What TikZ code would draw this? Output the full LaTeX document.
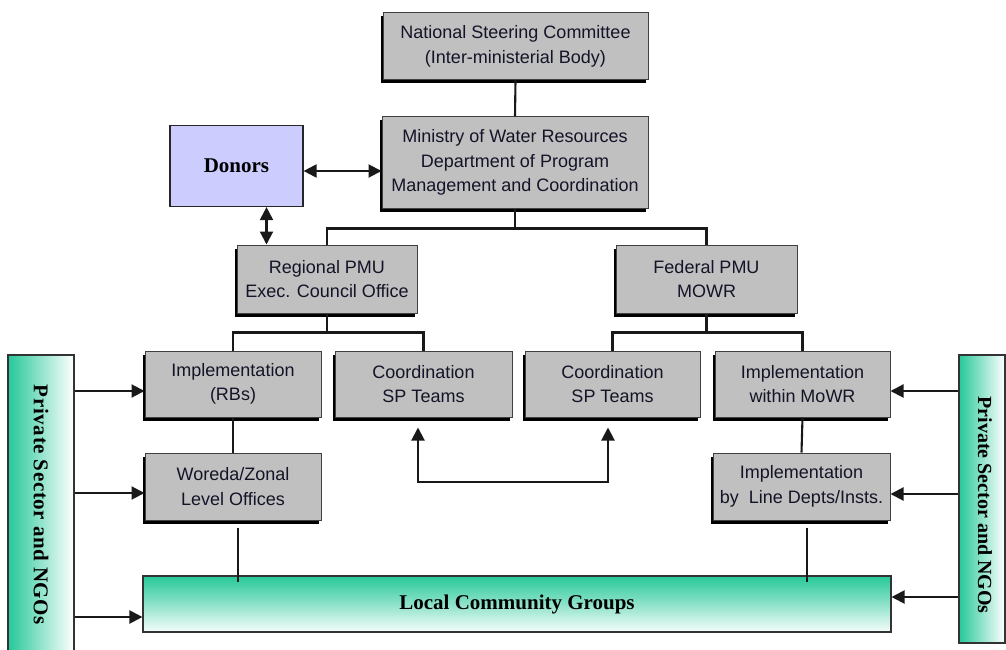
\documentclass[tikz,border=0pt]{standalone}
\usepackage{fontspec}
\setmainfont{Liberation Sans}
\newfontfamily\tnr{Liberation Serif}
\usetikzlibrary{arrows.meta,shadows,calc}
\definecolor{boxgray}{HTML}{C0C0C0}
\definecolor{donorblue}{HTML}{CCCCFF}
\definecolor{psgreen}{HTML}{26C899}
\definecolor{txt}{HTML}{141428}
\tikzset{
  gbox/.style={draw=black!75, line width=1pt, fill=boxgray,
    drop shadow={shadow xshift=-2.5pt, shadow yshift=-3.5pt, opacity=1, fill=black},
    align=center, text=txt, inner sep=0pt, font=\fontsize{18}{24.5}\selectfont},
  conn/.style={line width=2.1pt, draw=black!90},
  tip/.style={-{Triangle[length=13pt,width=13pt]}},
  dtip/.style={{Triangle[length=13pt,width=13pt]}-{Triangle[length=13pt,width=13pt]}},
  psbox/.style={draw=black!80, line width=1.1pt, left color=psgreen, right color=white, inner sep=0pt},
  pstext/.style={rotate=-90, text=black}
}
\begin{document}
\begin{tikzpicture}[x=1pt,y=-1pt]
\clip (0,0) rectangle (1006,650);
\fill[white] (0,0) rectangle (1006,650);
% gray boxes
\node[gbox, minimum width=265pt, minimum height=67pt] (nsc) at (515.5,46.5) {National Steering Committee\\(Inter-ministerial Body)};
\node[gbox, minimum width=266pt, minimum height=91pt] (min) at (515,162.5) {Ministry of Water Resources\\Department of Program\\Management and Coordination};
\node[draw=black!85, line width=1.2pt, fill=donorblue, minimum width=133pt, minimum height=81pt, inner sep=0pt, font=\tnr\bfseries\fontsize{21}{22}\selectfont] (don) at (236.5,166) {Donors};
\node[gbox, minimum width=180pt, minimum height=68pt] (rpmu) at (327,279) {Regional PMU\\Exec. Council Office};
\node[gbox, minimum width=181pt, minimum height=68pt] (fpmu) at (706.5,279) {Federal PMU\\MOWR};
\node[gbox, minimum width=176pt, minimum height=66pt] (impl) at (233,384) {Implementation\\(RBs)};
\node[gbox, minimum width=177pt, minimum height=66pt] (coordL) at (423.5,384) {Coordination\\SP Teams};
\node[gbox, minimum width=175pt, minimum height=66pt] (coordR) at (612.5,384) {Coordination\\SP Teams};
\node[gbox, minimum width=175pt, minimum height=66pt] (implM) at (802.5,384) {Implementation\\within MoWR};
\node[gbox, minimum width=176pt, minimum height=67pt] (wor) at (233,486.5) {Woreda/Zonal\\Level Offices};
\node[gbox, minimum width=177pt, minimum height=67pt] (line) at (801.5,486.5) {Implementation\\by\ \ Line Depts/Insts.};
% local community
\node[draw=black!80, line width=1.1pt, top color=psgreen, bottom color=white!96!psgreen, minimum width=748pt, minimum height=56pt, inner sep=0pt, font=\tnr\bfseries\fontsize{21}{22}\selectfont] (lcg) at (517,604) {Local Community Groups};
% private sector boxes
\node[psbox, minimum width=66pt, minimum height=300pt] (psL) at (41,505) {};
\node[pstext, font=\tnr\bfseries\fontsize{21}{22}\selectfont\addfontfeature{LetterSpace=3}] (psLt) at (psL.center) {Private Sector and NGOs};
\node[psbox, minimum width=46pt, minimum height=288pt] (psR) at (982,499) {};
\node[pstext, font=\tnr\bfseries\fontsize{20}{22}\selectfont] (psRt) at ([xshift=3pt,yshift=-6pt]psR.center) {Private Sector and NGOs};
% connectors
\draw[conn] (nsc.south) -- (min.north);
\draw[conn] (min.south) -- ++(0,20) -| (rpmu.north);
\draw[conn] (min.south) -- ++(0,20) -| (fpmu.north);
\draw[conn] (rpmu.south) -- ++(0,19) -| (impl.north);
\draw[conn] (rpmu.south) -- ++(0,19) -| (coordL.north);
\draw[conn] (fpmu.south) -- ++(0,19) -| (coordR.north);
\draw[conn] (fpmu.south) -- ++(0,19) -| (implM.north);
\draw[conn] (impl.south) -- (wor.north);
\draw[conn] (implM.south) -- (line.north);
\draw[conn] ([xshift=5pt,yshift=-7pt]wor.south) -- ([xshift=5pt,yshift=-7pt]wor.south |- lcg.north);
\draw[conn] ([xshift=5.5pt,yshift=-7pt]line.south) -- ([xshift=5.5pt,yshift=-7pt]line.south |- lcg.north);
% donors arrows
\draw[conn, dtip] ([yshift=-5pt]don.east) -- ([yshift=-5pt]don.east -| min.west);
\draw[conn, dtip] ([xshift=30pt]don.south) -- ([xshift=30pt]don.south |- rpmu.north);
% coordination link
\coordinate (bus) at (513,482);
\draw[conn, dtip] ([xshift=-5.5pt,yshift=-10pt]coordL.south) |- (bus) -| ([xshift=-4.5pt,yshift=-10pt]coordR.south);
% private sector arrows
\draw[conn, tip] ([yshift=-7pt]impl.west -| psL.east) -- ([yshift=-7pt]impl.west);
\draw[conn, tip] ([yshift=-6.5pt]wor.west -| psL.east) -- ([yshift=-6.5pt]wor.west);
\draw[conn, tip] ([yshift=-13pt]lcg.west -| psL.east) -- ([yshift=-13pt]lcg.west);
\draw[conn, tip] ([yshift=-7pt]implM.east -| psR.west) -- ([yshift=-7pt]implM.east);
\draw[conn, tip] ([yshift=-7.5pt]line.east -| psR.west) -- ([yshift=-7.5pt]line.east);
\draw[conn, tip] ([yshift=7pt]lcg.east -| psR.west) -- ([yshift=7pt]lcg.east);
\end{tikzpicture}
\end{document}
